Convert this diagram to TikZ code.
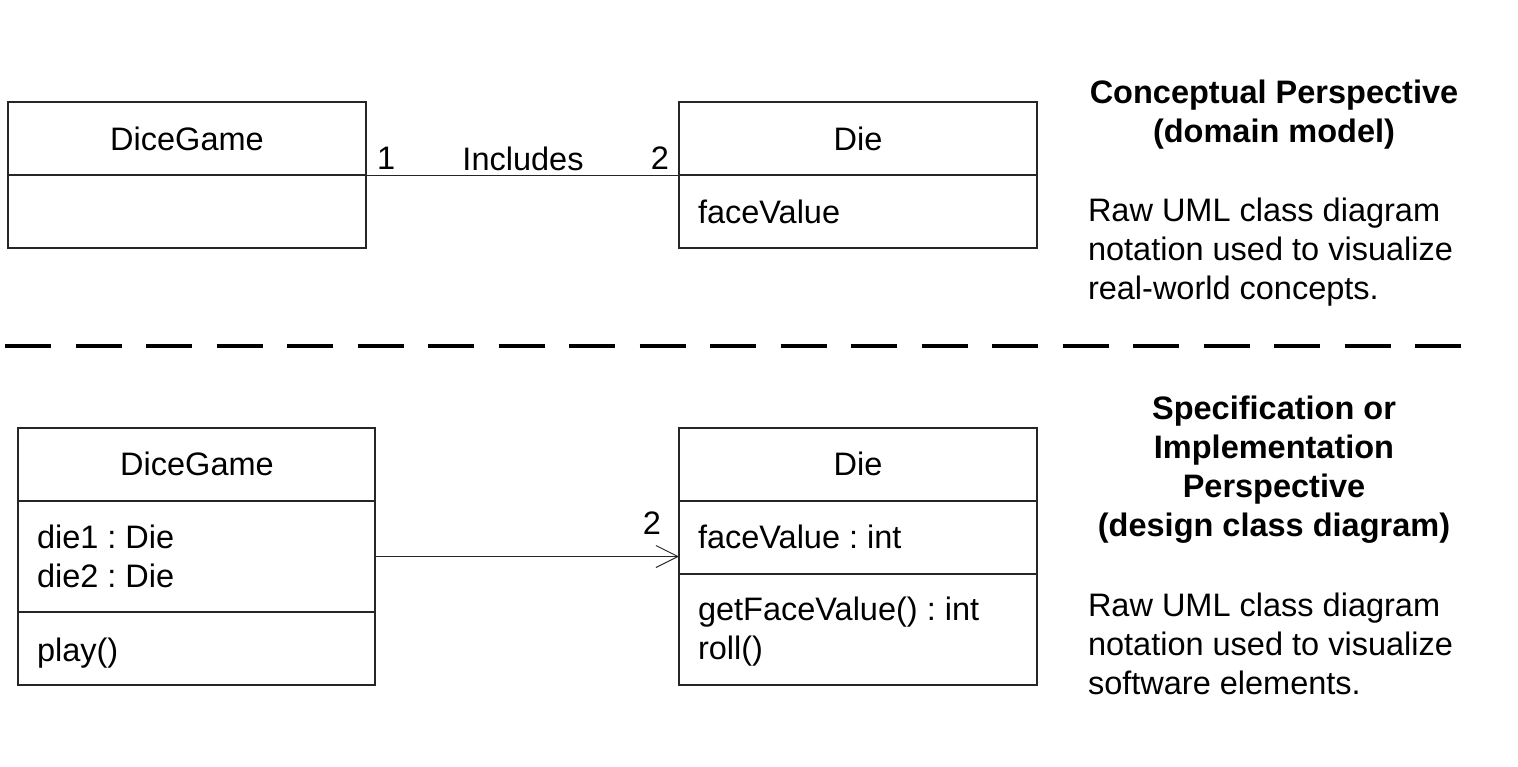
\documentclass[tikz,border=0pt]{standalone}
\usepackage{fontspec}
\setmainfont{Liberation Sans}
\usetikzlibrary{arrows.meta}
\frenchspacing
\begin{document}
\begin{tikzpicture}[x=1pt,y=-1pt,
  classbox/.style={draw=black!85, line width=1.2pt, inner sep=0pt, outer sep=0pt, minimum width=358pt, anchor=north west},
  txt/.style={inner sep=0pt, outer sep=0pt, font=\fontsize{32.5}{39}\selectfont},
  btxt/.style={txt, font=\fontsize{32.5}{39}\selectfont\bfseries},
  assoc/.style={line width=1pt, black!85},
  sep/.style={line width=1.2pt, black!85}
]
\useasboundingbox (0,0) rectangle (1518,766);
\fill[white] (0,0) rectangle (1518,766);

% ---------- Conceptual perspective ----------
\node[classbox, minimum height=146pt] (cdg) at (8,102) {};
\draw[sep] ([yshift=-73pt]cdg.north west) -- ([yshift=-73pt]cdg.north east);
\node[classbox, minimum height=146pt] (cdie) at (679,102) {};
\draw[sep] ([yshift=-73pt]cdie.north west) -- ([yshift=-73pt]cdie.north east);

\node[txt, anchor=base] (cdgname) at (187,150) {DiceGame};
\node[txt, anchor=base] (cdiename) at (858,150) {Die};
\node[txt, anchor=base west] (cdieattr) at (698,223) {faceValue};

\draw[assoc] (cdg.east) -- (cdie.west);
\node[txt, anchor=base west] (m1) at (377,169) {1};
\node[txt, anchor=base] (incl) at (523,170) {Includes};
\node[txt, anchor=base east] (m2) at (669,169) {2};

\node[btxt, anchor=base, align=center] (h1) at (1274,142) {Conceptual Perspective\\(domain model)};
\node[txt, anchor=base west, align=left] (d1) at (1088,299) {Raw UML class diagram\\notation used to visualize\\real-world concepts.};

% ---------- divider ----------
\coordinate (sl) at (5,346);
\coordinate (sr) at (1463,346);
\draw[line width=4pt, dash pattern=on 46pt off 24.5pt] (sl) -- (sr);

% ---------- Specification / implementation perspective ----------
\node[classbox, minimum width=357pt, minimum height=257pt] (ddg) at (18,428) {};
\draw[sep] ([yshift=-73pt]ddg.north west) -- ([yshift=-73pt]ddg.north east);
\draw[sep] ([yshift=-184pt]ddg.north west) -- ([yshift=-184pt]ddg.north east);
\node[classbox, minimum height=257pt] (ddie) at (679,428) {};
\draw[sep] ([yshift=-73pt]ddie.north west) -- ([yshift=-73pt]ddie.north east);
\draw[sep] ([yshift=-146pt]ddie.north west) -- ([yshift=-146pt]ddie.north east);

\node[txt, anchor=base] (ddgname) at (197,475) {DiceGame};
\node[txt, anchor=base west, align=left] (ddgattr) at (37,587) {die1 : Die\\die2 : Die};
\node[txt, anchor=base west] (ddgop) at (37,661) {play()};
\node[txt, anchor=base] (ddiename) at (858,475) {Die};
\node[txt, anchor=base west] (ddieattr) at (698,548) {faceValue : int};
\node[txt, anchor=base west, align=left] (ddieop) at (698,659) {getFaceValue() : int\\roll()};

\draw[assoc, -{Straight Barb[length=22pt, width=22pt, line width=1pt]}] (ddg.east) -- (ddie.west);
\node[txt, anchor=base east] (m3) at (661,534) {2};

\node[btxt, anchor=base, align=center] (h2) at (1274,536) {Specification or\\Implementation\\Perspective\\(design class diagram)};
\node[txt, anchor=base west, align=left] (d2) at (1088,694) {Raw UML class diagram\\notation used to visualize\\software elements.};
\end{tikzpicture}
\end{document}
